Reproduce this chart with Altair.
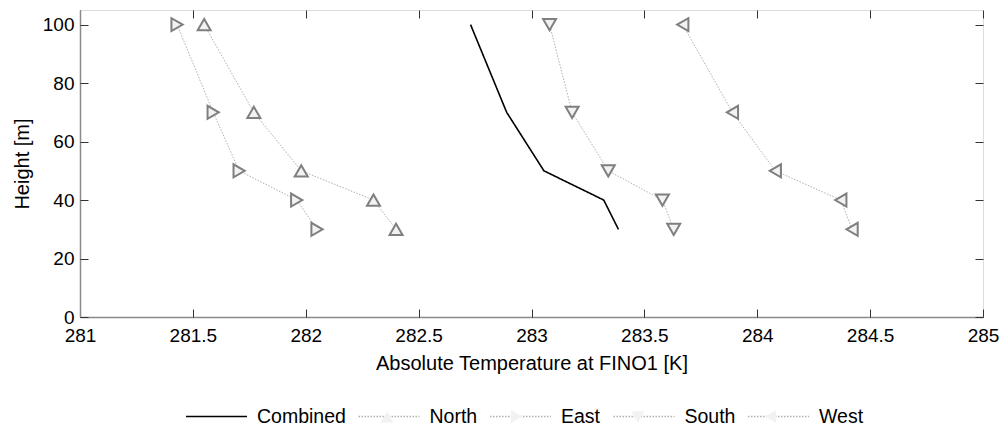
import altair as alt
import pandas as pd

# Vertical temperature profiles at FINO1, by wind sector
heights = [30, 40, 50, 70, 100]
combined = [283.385, 283.32, 283.055, 282.89, 282.73]
north = [282.40, 282.30, 281.98, 281.77, 281.55]
east = [282.05, 281.96, 281.705, 281.59, 281.43]
south = [283.63, 283.58, 283.34, 283.18, 283.08]
west = [284.42, 284.37, 284.08, 283.89, 283.67]

series_names = ["Combined", "North", "East", "South", "West"]
x_ticks = [281, 281.5, 282, 282.5, 283, 283.5, 284, 284.5, 285]
y_ticks = [0, 20, 40, 60, 80, 100]

# marker keys carry a prefix so the marker legend stays separate from the line legend
marker_keys = ["m:" + n for n in series_names]

rows = []
for name, key, temps in zip(series_names, marker_keys, [combined, north, east, south, west]):
    for h, t in zip(heights, temps):
        rows.append({"series": name, "marker": key, "temp": t, "height": h})
df = pd.DataFrame(rows)

W, H = 903, 307
FONT = "Liberation Sans"
FRAME = "#8a8a8a"
TICK = "#333333"
LINE_GREY = "#b0b0b0"
MARK_GREY = "#7f7f7f"
MARK_FILL = "#f2f2f2"

# Marker size shared by plot and legend; triangles drawn as small custom paths
SIZE = 3721
tri = {
    "Combined": "M0,0",
    "North": "M0,-0.185L0.213,0.185L-0.213,0.185Z",
    "East": "M0.185,0L-0.185,-0.213L-0.185,0.213Z",
    "South": "M0,0.185L0.213,-0.185L-0.213,-0.185Z",
    "West": "M-0.185,0L0.185,-0.213L0.185,0.213Z",
}

xscale = alt.Scale(domain=[281, 285], nice=False, zero=False)
yscale = alt.Scale(domain=[0, 105], nice=False, zero=False)

LEG_X, LEG_Y = 105, 375
COL_PAD = 9.5


def inner_ticks(orient, offset):
    return alt.Axis(orient=orient, offset=offset, values=x_ticks if orient in ("top", "bottom") else y_ticks,
                    labels=False, domain=False, grid=False, title=None,
                    ticks=True, tickSize=8, tickColor=TICK, tickWidth=1)


color = alt.Color("series:N", scale=alt.Scale(domain=series_names,
                  range=["#000000", LINE_GREY, LINE_GREY, LINE_GREY, LINE_GREY]),
                  legend=alt.Legend(orient="none", legendX=LEG_X, legendY=LEG_Y, direction="horizontal",
                                    columns=5, title=None, symbolType="stroke", symbolSize=SIZE,
                                    symbolStrokeWidth=1.3, zindex=0,
                                    labelFontSize=19.5, labelFont=FONT, labelColor="#000000",
                                    labelOffset=9, columnPadding=COL_PAD, padding=0))
dash = alt.StrokeDash("series:N", scale=alt.Scale(domain=series_names,
                      range=[[1, 0], [1.5, 1.5], [1.5, 1.5], [1.5, 1.5], [1.5, 1.5]]), legend=None)

base = alt.Chart(df)

combined_line = base.transform_filter("datum.series == 'Combined'").mark_line(strokeWidth=1.6).encode(
    x=alt.X("temp:Q", scale=xscale, axis=alt.Axis(
        values=x_ticks, format="~g", title="Absolute Temperature at FINO1 [K]",
        ticks=False, tickSize=0, grid=False, domainColor=FRAME, domainWidth=1.5,
        labelFontSize=19, labelFont=FONT, labelColor="#000000", labelPadding=9,
        labelFlush=False, labelOverlap=False,
        titleFontSize=20, titleFont=FONT, titleColor="#000000", titleFontWeight="normal",
        titlePadding=8)),
    y=alt.Y("height:Q", scale=yscale, axis=alt.Axis(
        values=y_ticks, title="Height [m]",
        ticks=False, tickSize=0, grid=False, domainColor=FRAME, domainWidth=1.5,
        labelFontSize=19, labelFont=FONT, labelColor="#000000", labelPadding=6,
        labelOverlap=False,
        titleFontSize=20, titleFont=FONT, titleColor="#000000", titleFontWeight="normal",
        titlePadding=10)),
    color=color,
    strokeDash=dash,
    order="height:Q",
)

sector_lines = base.transform_filter("datum.series != 'Combined'").mark_line(strokeWidth=1).encode(
    x=alt.X("temp:Q", scale=xscale, axis=inner_ticks("bottom", -H)),
    y=alt.Y("height:Q", scale=yscale, axis=inner_ticks("left", -W)),
    color=color,
    strokeDash=dash,
    order="height:Q",
)

markers = base.transform_filter("datum.series != 'Combined'").mark_point(
    filled=False, fill=MARK_FILL, fillOpacity=1, stroke=MARK_GREY, strokeWidth=2, size=SIZE, opacity=1
).encode(
    x=alt.X("temp:Q", scale=xscale, axis=inner_ticks("top", -H)),
    y=alt.Y("height:Q", scale=yscale, axis=inner_ticks("right", -W)),
    shape=alt.Shape("marker:N", scale=alt.Scale(domain=marker_keys, range=[tri[n] for n in series_names]),
                    legend=alt.Legend(orient="none", legendX=LEG_X, legendY=LEG_Y, direction="horizontal",
                                      columns=5, title=None, symbolSize=SIZE, zindex=5,
                                      symbolFillColor=MARK_FILL, symbolStrokeColor=MARK_GREY,
                                      symbolStrokeWidth=2, symbolOpacity=1, symbolDash=[1, 0],
                                      labelExpr="slice(datum.label, 2)",
                                      labelFontSize=19.5, labelFont=FONT, labelOpacity=0,
                                      labelOffset=9, columnPadding=COL_PAD, padding=0)),
)

chart = alt.layer(combined_line, sector_lines, markers).resolve_axis(
    x="independent", y="independent"
).properties(
    width=W, height=H,
    autosize=alt.AutoSizeParams(type="none"),
    padding={"left": 80, "top": 10, "right": 20, "bottom": 110},
    background="#ffffff",
).configure_view(
    stroke=FRAME, strokeWidth=1.5
).configure(font=FONT)

chart.save("out.html", embed_options={"renderer": "svg", "actions": False})
